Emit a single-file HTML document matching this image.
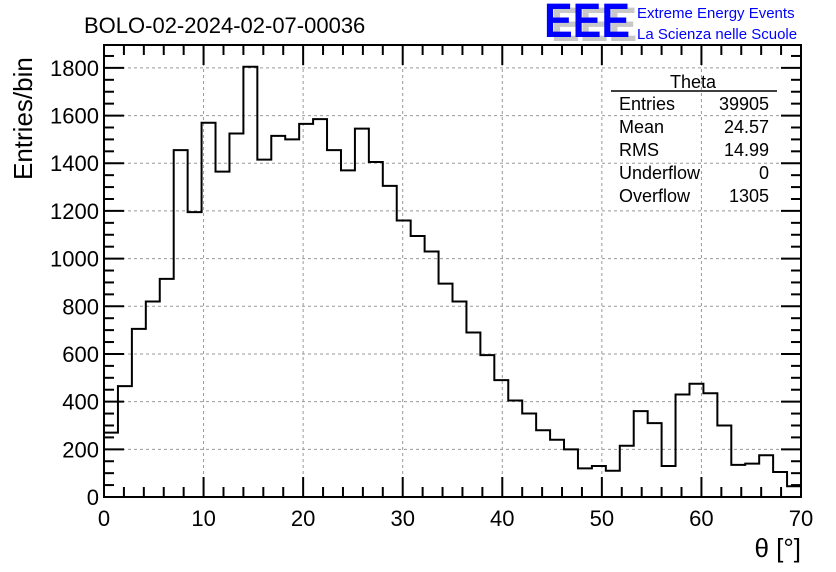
<!DOCTYPE html>
<html><head><meta charset="utf-8"><style>
html,body{margin:0;padding:0;background:#fff}
svg{display:block;font-family:"Liberation Sans",Arial,sans-serif}
</style></head><body>
<svg id="chart" width="836" height="572" viewBox="0 0 836 572" xmlns="http://www.w3.org/2000/svg">
<text x="84" y="33" font-size="22">BOLO-02-2024-02-07-00036</text>
<g>
<text x="551" y="41" font-size="48" fill="#c8c8c8" font-weight="bold" textLength="86" lengthAdjust="spacingAndGlyphs">EEE</text>
<text x="544" y="37" font-size="48" fill="#0000ff" font-weight="bold" textLength="86" lengthAdjust="spacingAndGlyphs">EEE</text>
<text x="637" y="18" font-size="15" fill="#0000ff">Extreme Energy Events</text>
<text x="637" y="39" font-size="15" fill="#0000ff">La Scienza nelle Scuole</text>
</g>
<g id="grid"></g>
<g id="stats" font-size="18">
<text x="693" y="88" text-anchor="middle">Theta</text>
<line x1="611" y1="91" x2="777" y2="91" stroke="#000" stroke-width="1.5"/>
<text x="619" y="110">Entries</text><text x="769" y="110" text-anchor="end">39905</text>
<text x="619" y="133">Mean</text><text x="769" y="133" text-anchor="end">24.57</text>
<text x="619" y="156">RMS</text><text x="769" y="156" text-anchor="end">14.99</text>
<text x="619" y="179">Underflow</text><text x="769" y="179" text-anchor="end">0</text>
<text x="619" y="202">Overflow</text><text x="769" y="202" text-anchor="end">1305</text>
</g>
<g id="axes"></g>
<path id="hist" fill="none" stroke="#000" stroke-width="2"/>
<text transform="translate(32,180) rotate(-90)" font-size="26">Entries/bin</text>
<text x="801" y="557" font-size="26" text-anchor="end">θ [°]</text>
</svg>
<script>
const counts = [270,465,705,820,915,1455,1195,1570,1365,1525,1805,1415,1515,1500,1565,1585,1455,1370,1545,1405,1305,1160,1095,1030,895,820,690,595,490,405,350,280,240,200,120,130,110,215,360,310,130,430,475,435,300,135,140,175,105,45];
const xTicks = [0,10,20,30,40,50,60,70];
const yTicks = [0,200,400,600,800,1000,1200,1400,1600,1800];
const xMin=0,xMax=70,yMin=0,yMax=1896;
const L=104,R=801,T=45,B=497;
const sx=v=>L+(v-xMin)/(xMax-xMin)*(R-L);
const sy=v=>B-(v-yMin)/(yMax-yMin)*(B-T);
const NS="http://www.w3.org/2000/svg";
function mk(tag,attrs,parent){const e=document.createElementNS(NS,tag);for(const k in attrs)e.setAttribute(k,attrs[k]);parent.appendChild(e);return e;}
const grid=document.getElementById('grid'),axes=document.getElementById('axes');
xTicks.forEach(v=>{if(v>xMin&&v<xMax){const l=mk('line',{x1:sx(v),x2:sx(v),y1:T,y2:B,stroke:'#999','stroke-dasharray':'3,3'},grid);

}});
yTicks.forEach(v=>{if(v>yMin){const l=mk('line',{x1:L,x2:R,y1:sy(v),y2:sy(v),stroke:'#999','stroke-dasharray':'3,3'},grid);

}});
const fr=mk('rect',{x:L,y:T,width:R-L,height:B-T,fill:'none',stroke:'#000','stroke-width':2},axes);


for(let v=xMin;v<=xMax;v+=2){const major=v%10===0;const len=major?20:10;
mk('line',{x1:sx(v),x2:sx(v),y1:B,y2:B-len,stroke:'#000','stroke-width':2},axes);
mk('line',{x1:sx(v),x2:sx(v),y1:T,y2:T+len,stroke:'#000','stroke-width':2},axes);}
for(let v=yMin;v<=yMax;v+=50){const major=v%200===0;const len=major?20:10;
mk('line',{x1:L,x2:L+len,y1:sy(v),y2:sy(v),stroke:'#000','stroke-width':2},axes);
mk('line',{x1:R,x2:R-len,y1:sy(v),y2:sy(v),stroke:'#000','stroke-width':2},axes);}
xTicks.forEach(v=>{const t=mk('text',{x:sx(v),y:B+29,'font-size':22,'text-anchor':'middle'},axes);t.textContent=v;

});
yTicks.forEach(v=>{const t=mk('text',{x:L-5,y:sy(v)+8,'font-size':22,'text-anchor':'end'},axes);t.textContent=v;

});
const w=(xMax-xMin)/counts.length;
let d='M'+sx(0)+','+sy(0);
counts.forEach((c,i)=>{d+=' L'+sx(i*w)+','+sy(c)+' L'+sx((i+1)*w)+','+sy(c);});
d+=' L'+sx(xMax)+','+sy(0);
document.getElementById('hist').setAttribute('d',d);
</script>
</body></html>
